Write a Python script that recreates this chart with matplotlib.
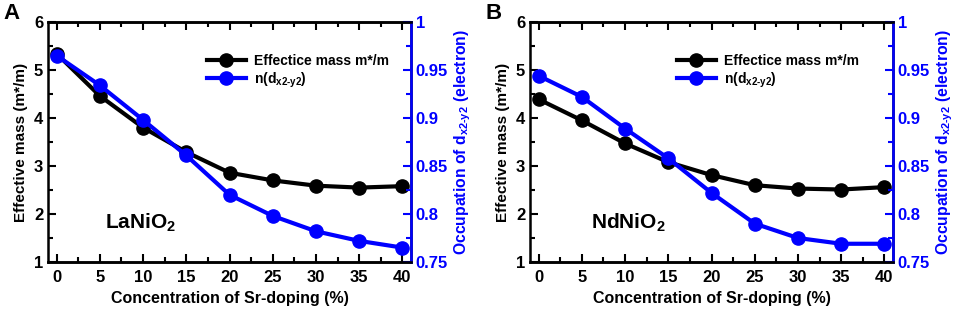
import numpy as np
import matplotlib.pyplot as plt
from matplotlib.ticker import MultipleLocator

plt.rcParams['font.family'] = ['Liberation Sans', 'DejaVu Sans']
plt.rcParams['font.weight'] = 'bold'
plt.rcParams['mathtext.fontset'] = 'custom'
plt.rcParams['mathtext.rm'] = 'Liberation Sans:bold'
plt.rcParams['mathtext.bf'] = 'Liberation Sans:bold'
plt.rcParams['mathtext.default'] = 'bf'

doping = [0, 5, 10, 15, 20, 25, 30, 35, 40]

# panel A: LaNiO2
mass_la = [5.34, 4.46, 3.80, 3.29, 2.86, 2.70, 2.59, 2.55, 2.58]
occ_la = [0.965, 0.934, 0.898, 0.861, 0.820, 0.798, 0.782, 0.772, 0.765]

# panel B: NdNiO2
mass_nd = [4.39, 3.95, 3.47, 3.08, 2.81, 2.60, 2.53, 2.51, 2.56]
occ_nd = [0.944, 0.922, 0.889, 0.858, 0.822, 0.790, 0.775, 0.769, 0.769]

panels = [('A', 'LaNiO$_2$', mass_la, occ_la, 0.157, 0.962),
          ('B', 'NdNiO$_2$', mass_nd, occ_nd, 0.167, 0.93)]

fig = plt.figure(figsize=(9.55, 3.11), dpi=100)
lefts = [48 / 955, 530 / 955]
w = 363 / 955
bot = (311 - 262) / 311
h = 240 / 311
blue = '#0000ff'

for i, (tag, name, mass, occ, nx, lx) in enumerate(panels):
    ax = fig.add_axes([lefts[i], bot, w, h])
    ax2 = ax.twinx()
    l1, = ax.plot(doping, mass, color='black', lw=3, marker='o', ms=9.5,
                  label='Effectice mass m*/m', zorder=3)
    l2, = ax2.plot(doping, occ, color=blue, lw=3, marker='o', ms=9.5,
                   label='n(d$_{x2\\text{-}y2}$)')
    ax.set_xlim(-1, 41)
    ax.set_ylim(1, 6)
    ax2.set_ylim(0.75, 1)
    ax.set_xticks(doping)
    ax.xaxis.set_minor_locator(MultipleLocator(2.5))
    ax.yaxis.set_major_locator(MultipleLocator(1))
    ax.yaxis.set_minor_locator(MultipleLocator(0.5))
    ax2.set_yticks([0.75, 0.8, 0.85, 0.9, 0.95, 1])
    ax2.set_yticklabels(['0.75', '0.8', '0.85', '0.9', '0.95', '1'])
    ax2.yaxis.set_minor_locator(MultipleLocator(0.025))
    ax.tick_params(axis='x', which='both', direction='in', top=True, labelsize=12, pad=6)
    ax.tick_params(axis='y', which='both', direction='in', right=False, labelsize=12)
    ax.tick_params(which='major', length=6, width=1.5)
    ax.tick_params(which='minor', length=3.5, width=1.5)
    ax2.tick_params(axis='y', which='both', direction='in', colors=blue, labelsize=12)
    ax2.tick_params(which='major', length=6, width=1.5)
    ax2.tick_params(which='minor', length=3.5, width=1.5)
    for s in ax.spines.values():
        s.set_linewidth(1.8)
    for s in ax2.spines.values():
        s.set_linewidth(1.8)
    ax2.spines['right'].set_color(blue)
    ax2.spines['left'].set_visible(False)
    ax.set_xlabel('Concentration of Sr-doping (%)', fontsize=11.5, fontweight='bold')
    ax.set_ylabel('Effective mass (m*/m)', fontsize=11, fontweight='bold')
    ax2.set_ylabel('Occupation of d$_{x2\\text{-}y2}$ (electron)', fontsize=11.3,
                   fontweight='bold', color=blue, labelpad=3)
    ax.text(nx, 0.14, name, transform=ax.transAxes, fontsize=15, fontweight='bold')
    ax2.legend([l1, l2], [l1.get_label(), l2.get_label()], loc='upper right',
               bbox_to_anchor=(lx, 0.9), frameon=False, fontsize=10,
               handlelength=2.8, handletextpad=0.6, borderaxespad=0.2, labelspacing=0.15)
    fig.text(lefts[i] - 45 / 955, 0.99, tag, fontsize=16, fontweight='bold', va='top')

fig.savefig('out.png', dpi=100)
